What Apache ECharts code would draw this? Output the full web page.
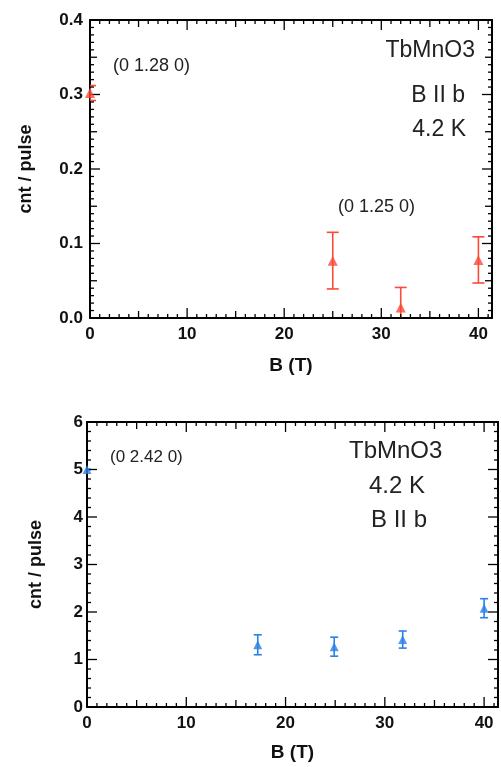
<!DOCTYPE html>
<html>
<head>
<meta charset="utf-8">
<title>TbMnO3 B || b</title>
<script src="https://cdn.jsdelivr.net/npm/echarts@6/dist/echarts.min.js"></script>
<style>
  html, body { margin: 0; padding: 0; background: #fff; overflow: hidden; }
  #chartTop { width: 501px; height: 384px; }
  #chartBottom { width: 501px; height: 383px; }
</style>
</head>
<body>
<div id="chartTop"></div>
<div id="chartBottom"></div>
<script>
// upper panel: (0 1.28 0) / (0 1.25 0)
const fieldTop = [0, 25, 32, 40];
const cntTop = [0.302, 0.077, 0.014, 0.078];
const errTop = [0.01, 0.038, 0.027, 0.031];

// lower panel: (0 2.42 0)
const fieldBottom = [0, 17.2, 24.9, 31.8, 40];
const cntBottom = [5.0, 1.31, 1.27, 1.42, 2.08];
const errBottom = [0, 0.21, 0.2, 0.18, 0.2];

const xMax = 41.4;

const red = "#fb4a37";
const blue = "#2a80e6";
const font = "Liberation Sans, Arial, sans-serif";

// 刻度位置（坐标轴装饰，不是数据）
function tickList(min, max, step) {
  let out = [];
  let n = Math.round((max - min) / step);
  for (let i = 0; i <= n; i++) out.push(+(min + i * step).toFixed(4));
  return out;
}
const xTicks = tickList(0, 41, 1);
const yTicksTop = tickList(0, 0.4, 0.01);
const yTicksBottom = tickList(0, 6, 0.2);

// 边框轴
function frameAxis(pos, min, max, interval, extra) {
  let ax = {
    type: "value",
    position: pos,
    min: min,
    max: max,
    interval: interval,
    splitLine: { show: false },
    axisLine: { show: true, onZero: false, lineStyle: { color: "#000", width: 2 } },
    axisTick: { show: false },
    minorTick: { show: false },
    axisLabel: { show: false },
  };
  return Object.assign(ax, extra || {});
}

const labelStyle = { fontFamily: font, fontWeight: "bold", fontSize: 17, color: "#111" };
const nameStyle = { fontFamily: font, fontWeight: "bold", fontSize: 19, color: "#111" };

// 只在 10 的倍数 / 0.1 的倍数处标数字
const tensOnly = (v) => (Math.abs(v % 10) < 1e-6 ? String(v) : "");
const tenthsOnly = (v) => (Math.abs(Math.round(v * 10) - v * 10) < 1e-6 ? v.toFixed(1) : "");

const onStep = (v, step) => Math.abs(v / step - Math.round(v / step)) < 1e-6;

// 四边朝内的刻度，用坐标系换算位置
function frameTicks(xs, ys, xr, yr, xMajor, xMid, yMajor, yMid) {
  let data = xs.map((v) => [0, v]).concat(ys.map((v) => [1, v]));
  return {
    type: "custom",
    clip: false,
    silent: true,
    z: 5,
    data: data,
    renderItem: function (params, api) {
      let kind = api.value(0);
      let v = api.value(1);
      let st = { stroke: "#000", lineWidth: 1.3 };
      let len;
      if (kind === 0) {
        len = onStep(v, xMajor) ? 10 : onStep(v, xMid) ? 7 : 4;
        let a = api.coord([v, yr[0]]);
        let b = api.coord([v, yr[1]]);
        return {
          type: "group",
          children: [
            { type: "line", shape: { x1: a[0], y1: a[1], x2: a[0], y2: a[1] - len }, style: st },
            { type: "line", shape: { x1: b[0], y1: b[1], x2: b[0], y2: b[1] + len }, style: st },
          ],
        };
      }
      len = onStep(v, yMajor) ? 10 : onStep(v, yMid) ? 7 : 4;
      let a = api.coord([xr[0], v]);
      let b = api.coord([xr[1], v]);
      return {
        type: "group",
        children: [
          { type: "line", shape: { x1: a[0], y1: a[1], x2: a[0] + len, y2: a[1] }, style: st },
          { type: "line", shape: { x1: b[0], y1: b[1], x2: b[0] - len, y2: b[1] }, style: st },
        ],
      };
    },
  };
}

function errorBars(xs, ys, es, color, cap) {
  return {
    type: "custom",
    clip: true,
    data: xs.map((x, i) => [x, ys[i] - es[i], ys[i] + es[i]]),
    renderItem: function (params, api) {
      let lo = api.coord([api.value(0), api.value(1)]);
      let hi = api.coord([api.value(0), api.value(2)]);
      let st = { stroke: color, lineWidth: 1.6 };
      return {
        type: "group",
        children: [
          { type: "line", shape: { x1: lo[0], y1: lo[1], x2: hi[0], y2: hi[1] }, style: st },
          { type: "line", shape: { x1: lo[0] - cap, y1: lo[1], x2: lo[0] + cap, y2: lo[1] }, style: st },
          { type: "line", shape: { x1: hi[0] - cap, y1: hi[1], x2: hi[0] + cap, y2: hi[1] }, style: st },
        ],
      };
    },
  };
}

// 上图
let topChart = echarts.init(document.getElementById("chartTop"));
topChart.setOption({
  animation: false,
  grid: { left: 90, top: 20, right: 9, height: 298 },
  xAxis: [
    frameAxis("bottom", 0, xMax, 5, {
      axisLabel: Object.assign({ show: true, margin: 8, formatter: tensOnly }, labelStyle),
      name: "B (T)",
      nameLocation: "middle",
      nameGap: 38,
      nameTextStyle: nameStyle,
    }),
    frameAxis("top", 0, xMax, 5),
  ],
  yAxis: [
    frameAxis("left", 0, 0.4, 0.05, {
      axisLabel: Object.assign({ show: true, margin: 7, formatter: tenthsOnly }, labelStyle),
      name: "cnt / pulse",
      nameLocation: "middle",
      nameGap: 55,
      nameTextStyle: Object.assign({}, nameStyle, { fontSize: 18 }),
    }),
    frameAxis("right", 0, 0.4, 0.05),
  ],
  series: [
    frameTicks(xTicks, yTicksTop, [0, xMax], [0, 0.4], 10, 5, 0.1, 0.05),
    errorBars(fieldTop, cntTop, errTop, red, 6),
    {
      type: "scatter",
      clip: false,
      z: 6,
      symbol: "triangle",
      symbolSize: [10, 10],
      itemStyle: { color: red },
      data: fieldTop.map((x, i) => [x, cntTop[i]]),
    },
  ],
  graphic: [
    { type: "text", left: 113, top: 57, style: { text: "(0 1.28 0)", font: "18px " + font, fill: "#222" } },
    { type: "text", left: 338, top: 198, style: { text: "(0 1.25 0)", font: "18px " + font, fill: "#222" } },
    { type: "text", right: 26, top: 39, style: { text: "TbMnO3", font: "23px " + font, fill: "#222", align: "right" } },
    { type: "text", right: 36, top: 84, style: { text: "B II b", font: "23px " + font, fill: "#222", align: "right" } },
    { type: "text", right: 35, top: 118, style: { text: "4.2 K", font: "23px " + font, fill: "#222", align: "right" } },
  ],
});

// 下图
let bottomChart = echarts.init(document.getElementById("chartBottom"));
bottomChart.setOption({
  animation: false,
  grid: { left: 87, top: 38, right: 2, height: 288 },
  xAxis: [
    frameAxis("bottom", 0, xMax, 5, {
      axisLabel: Object.assign({ show: true, margin: 8, formatter: tensOnly }, labelStyle),
      name: "B (T)",
      nameLocation: "middle",
      nameGap: 36,
      nameTextStyle: nameStyle,
    }),
    frameAxis("top", 0, xMax, 5),
  ],
  yAxis: [
    frameAxis("left", 0, 6, 1, {
      axisLabel: Object.assign({ show: true, margin: 4 }, labelStyle),
      name: "cnt / pulse",
      nameLocation: "middle",
      nameGap: 42,
      nameTextStyle: Object.assign({}, nameStyle, { fontSize: 18 }),
    }),
    frameAxis("right", 0, 6, 1),
  ],
  series: [
    frameTicks(xTicks, yTicksBottom, [0, xMax], [0, 6], 10, 5, 1, 1),
    errorBars(fieldBottom, cntBottom, errBottom, blue, 4),
    {
      type: "scatter",
      clip: false,
      z: 6,
      symbol: "triangle",
      symbolSize: [9, 9],
      itemStyle: { color: blue },
      data: fieldBottom.map((x, i) => [x, cntBottom[i]]),
    },
  ],
  graphic: [
    { type: "text", left: 110, top: 65, style: { text: "(0 2.42 0)", font: "17px " + font, fill: "#222" } },
    { type: "text", left: 349, top: 55, style: { text: "TbMnO3", font: "24px " + font, fill: "#222" } },
    { type: "text", left: 369, top: 90, style: { text: "4.2 K", font: "24px " + font, fill: "#222" } },
    { type: "text", left: 371, top: 124, style: { text: "B II b", font: "24px " + font, fill: "#222" } },
  ],
});
</script>
</body>
</html>
